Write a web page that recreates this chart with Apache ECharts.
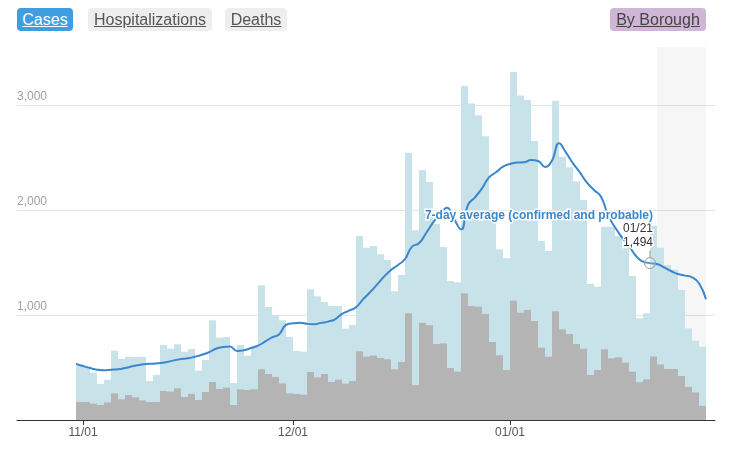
<!DOCTYPE html>
<html>
<head>
<meta charset="utf-8">
<script src="https://cdn.jsdelivr.net/npm/echarts@6/dist/echarts.min.js"></script>
<style>
html,body{margin:0;padding:0;background:#fff;}
#chart{position:absolute;left:0;top:0;width:731px;height:454px;}
.btn{position:absolute;top:8px;height:23px;line-height:23px;font-family:"Liberation Sans",Arial,sans-serif;font-size:16px;text-decoration:underline;border-radius:4px;text-align:center;box-sizing:border-box;z-index:2;}
</style>
</head>
<body>
<div id="chart"></div>
<div class="btn" style="left:17px;width:56px;background:#3e9ee0;color:#fff;">Cases</div>
<div class="btn" style="left:88px;width:124px;background:#eeeeee;color:#555;">Hospitalizations</div>
<div class="btn" style="left:225px;width:62px;background:#eeeeee;color:#555;">Deaths</div>
<div class="btn" style="left:610px;width:96px;background:#cfb5d6;color:#444;">By Borough</div>
<script>
// ---- data ----
const dates = [
  '10/31',
  '11/01','11/02','11/03','11/04','11/05','11/06','11/07','11/08','11/09','11/10',
  '11/11','11/12','11/13','11/14','11/15','11/16','11/17','11/18','11/19','11/20',
  '11/21','11/22','11/23','11/24','11/25','11/26','11/27','11/28','11/29','11/30',
  '12/01','12/02','12/03','12/04','12/05','12/06','12/07','12/08','12/09','12/10',
  '12/11','12/12','12/13','12/14','12/15','12/16','12/17','12/18','12/19','12/20',
  '12/21','12/22','12/23','12/24','12/25','12/26','12/27','12/28','12/29','12/30','12/31',
  '01/01','01/02','01/03','01/04','01/05','01/06','01/07','01/08','01/09','01/10',
  '01/11','01/12','01/13','01/14','01/15','01/16','01/17','01/18','01/19','01/20',
  '01/21','01/22','01/23','01/24','01/25','01/26','01/27','01/28','01/29'
];
// daily cases (one bar per day, starting 10/31)
const cases = [
  514,500,451,343,384,660,581,603,600,600,
  372,429,714,679,721,650,676,470,571,949,
  784,790,352,714,613,708,1283,1076,1000,949,
  790,657,651,1245,1178,1124,1086,1086,870,905,
  1752,1641,1657,1578,1524,1225,1381,2546,1806,2381,
  2267,1870,1648,1324,1311,3181,3013,2902,2702,2000,
  1625,1540,3314,3089,3048,2657,1705,1610,3041,2508,
  2406,2270,2095,1295,1270,1841,1841,1752,1635,1371,
  968,1016,1850,1640,1476,1430,1238,873,755,698
];
// grey portion of each daily bar
const casesGrey = [
  171,171,156,143,168,254,197,238,216,187,
  171,171,276,270,302,219,248,190,267,362,
  295,308,143,292,286,292,483,438,410,349,
  254,248,241,457,406,438,362,384,346,371,
  654,603,613,590,578,483,552,1016,333,925,
  903,724,730,495,460,1206,1086,1079,1010,743,
  616,476,1136,1022,1048,943,689,603,1035,863,
  819,724,679,429,476,673,587,597,546,460,
  360,387,605,528,486,486,419,316,263,135
];
// 7-day average (one point per date boundary)
const avg7 = [
  533,514,495,479,473,479,483,495,511,524,
  533,536,543,552,568,581,587,603,622,645,
  679,695,700,657,664,685,708,746,787,815,
  905,921,927,916,912,925,937,959,1010,1041,
  1073,1149,1216,1289,1365,1429,1476,1533,1651,1683,
  1778,1879,1962,2022,1915,1816,2048,2121,2206,2311,
  2359,2413,2438,2451,2454,2476,2467,2410,2470,2635,
  2546,2444,2356,2260,2190,2127,1952,1835,1740,1657,
  1562,1508,1494,1486,1454,1419,1390,1375,1359,1302,
  1149
];
const tickDates = ['11/01','12/01','01/01'];
const yTicks = [1000, 2000, 3000];
const partialFrom = '01/22';
const hoverDate = '01/21';
const avgLabel = '7-day average (confirmed and probable)';

// ---- chart ----
const FONT = '"Liberation Sans", Arial, sans-serif';
const tickIdx = tickDates.map(d => dates.indexOf(d));
const hi = dates.indexOf(hoverDate);
const chart = echarts.init(document.getElementById('chart'), null, {renderer: 'canvas'});

chart.setOption({
  animation: false,
  backgroundColor: '#fff',
  textStyle: {fontFamily: FONT},
  grid: {left: 17, right: 16, top: 47, bottom: 34, containLabel: false},
  xAxis: {
    type: 'value',
    min: -59 / 7,
    max: cases.length + 9 / 7,
    axisLine: {show: true, onZero: false, lineStyle: {color: '#333', width: 1}},
    axisTick: {show: true, customValues: tickIdx, length: 5, lineStyle: {color: '#333'}},
    axisLabel: {
      customValues: tickIdx,
      formatter: v => dates[Math.round(v)],
      color: '#555', fontSize: 12, margin: 7, fontFamily: FONT
    },
    splitLine: {show: false}
  },
  yAxis: {
    type: 'value',
    min: 0,
    max: 3552,
    interval: 1000,
    axisLine: {show: false},
    axisTick: {show: false},
    axisLabel: {
      inside: true,
      customValues: yTicks,
      verticalAlign: 'bottom',
      margin: 0,
      padding: [0, 0, 2, 0],
      color: '#a0a0a0', fontSize: 12, fontFamily: FONT,
      formatter: v => v.toLocaleString('en-US')
    },
    splitLine: {show: true, showMinLine: false, showMaxLine: false, lineStyle: {color: '#e4e4e4', width: 1}}
  },
  series: [
    {
      type: 'bar',
      name: 'cases',
      data: cases.map((v, i) => [i + 0.5, v]),
      barCategoryGap: '0%',
      barGap: '-100%',
      itemStyle: {color: '#c8e2ea'},
      silent: true
    },
    {
      type: 'bar',
      name: 'casesGrey',
      data: casesGrey.map((v, i) => [i + 0.5, v]),
      barCategoryGap: '0%',
      barGap: '-100%',
      itemStyle: {color: '#b4b4b4'},
      silent: true,
      markArea: {
        silent: true,
        itemStyle: {color: 'rgba(0,0,0,0.035)'},
        data: [[{xAxis: dates.indexOf(partialFrom)}, {xAxis: dates.length - 1}]]
      }
    },
    {
      type: 'line',
      name: avgLabel,
      data: avg7.map((v, i) => [i, v]),
      smooth: 0.5,
      symbol: 'none',
      lineStyle: {color: '#3b87cd', width: 2},
      z: 4,
      markPoint: {
        silent: true,
        data: [
          {
            coord: [hi, avg7[hi]],
            symbol: 'circle',
            symbolSize: 11,
            itemStyle: {color: 'rgba(255,255,255,0.15)', borderColor: '#9a9a9a', borderWidth: 1},
            label: {
              show: true, position: 'top', distance: 7, offset: [-12, 0],
              formatter: hoverDate + '\n' + avg7[hi].toLocaleString('en-US'),
              color: '#333', fontSize: 12, lineHeight: 14, fontFamily: FONT,
              textBorderColor: '#fff', textBorderWidth: 3
            }
          },
          {
            coord: [hi, avg7[hi]],
            symbol: 'rect',
            symbolSize: [1, 7],
            symbolOffset: [0, -9],
            itemStyle: {color: '#9a9a9a'},
            label: {show: false}
          },
          {
            coord: [hi, avg7[hi]],
            symbol: 'circle',
            symbolSize: 0,
            itemStyle: {color: 'rgba(0,0,0,0)'},
            label: {
              show: true, position: 'inside', align: 'right', verticalAlign: 'middle',
              offset: [3, -47],
              formatter: avgLabel,
              color: '#3b87cd', fontSize: 12, fontWeight: 'bold', fontFamily: FONT,
              textBorderColor: '#fff', textBorderWidth: 3
            }
          }
        ]
      }
    }
  ]
});
</script>
</body>
</html>
